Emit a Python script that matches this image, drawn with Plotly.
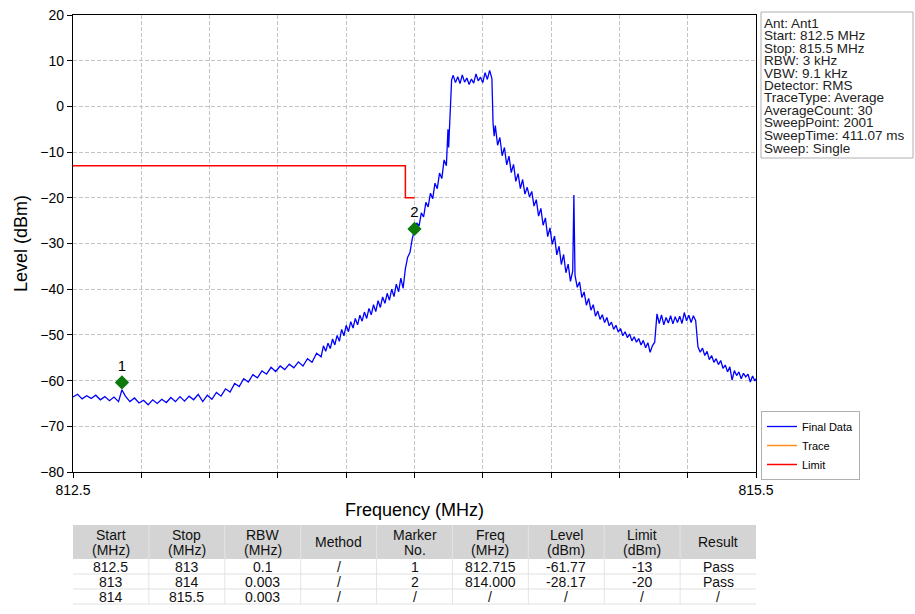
import plotly.graph_objects as go

W, H = 915, 614

# ---------------- data ----------------
freq_mhz = [
    812.50, 812.52, 812.54, 812.56, 812.58, 812.60, 812.62, 812.64, 812.66, 812.68, 812.70, 812.715,
    812.73, 812.75, 812.77, 812.79, 812.81, 812.83, 812.85, 812.87, 812.89, 812.91, 812.93, 812.95,
    812.97, 812.99, 813.01, 813.03, 813.05,
    813.07, 813.09, 813.11, 813.13, 813.15, 813.17, 813.19, 813.21, 813.23, 813.25, 813.27, 813.29,
    813.31, 813.33, 813.35, 813.37, 813.39, 813.41, 813.43, 813.45, 813.47, 813.49, 813.51, 813.53,
    813.55, 813.57, 813.59,
    813.60, 813.61, 813.62, 813.63, 813.64, 813.65, 813.66, 813.67, 813.68, 813.69, 813.70, 813.71,
    813.72, 813.73, 813.74, 813.75, 813.76, 813.77, 813.78, 813.79, 813.80, 813.81, 813.82, 813.83,
    813.84, 813.85, 813.86, 813.87, 813.88, 813.89, 813.90, 813.91, 813.92, 813.93, 813.94, 813.95,
    813.96, 813.97, 813.98, 813.99, 814.00, 814.01, 814.02, 814.03, 814.04, 814.05, 814.06, 814.07,
    814.08, 814.09, 814.10, 814.11, 814.12, 814.13, 814.14, 814.147, 814.150, 814.157, 814.163,
    814.17, 814.18, 814.19, 814.20, 814.21, 814.22, 814.23, 814.24, 814.25, 814.26, 814.27, 814.28,
    814.29, 814.30, 814.31, 814.32, 814.33, 814.34,
    814.345, 814.35, 814.355, 814.365, 814.375, 814.385, 814.395, 814.405, 814.415, 814.425, 814.435,
    814.445, 814.455, 814.465, 814.475, 814.485, 814.495,
    814.505, 814.515, 814.525, 814.535, 814.545, 814.555, 814.565, 814.575, 814.585, 814.595, 814.605,
    814.615, 814.625, 814.635, 814.645, 814.655, 814.665, 814.675, 814.685, 814.695, 814.700,
    814.705, 814.715, 814.725, 814.735, 814.745, 814.755, 814.765, 814.775, 814.785, 814.795, 814.805,
    814.815, 814.825, 814.835, 814.845, 814.855, 814.865, 814.875, 814.885, 814.895, 814.905, 814.915,
    814.925, 814.935, 814.945, 814.955, 814.965, 814.975, 814.985, 814.995, 815.005, 815.015, 815.025,
    815.035, 815.045, 815.055, 815.065, 815.075, 815.085, 815.095, 815.105, 815.115, 815.125, 815.135,
    815.145, 815.155, 815.165, 815.175, 815.185, 815.195, 815.205, 815.215, 815.225, 815.235, 815.245,
    815.255, 815.265, 815.275, 815.285, 815.295, 815.305, 815.315, 815.325, 815.335, 815.345, 815.355,
    815.365, 815.375, 815.385, 815.395, 815.405, 815.415, 815.425, 815.435, 815.445, 815.455, 815.465,
    815.475, 815.485, 815.495, 815.50,
]
level_dbm = [
    -63.6, -63.0, -64.0, -63.3, -63.9, -63.2, -64.2, -63.5, -64.4, -63.6, -64.6, -62.0,
    -63.4, -64.6, -63.8, -64.9, -64.3, -65.3, -64.2, -65.0, -64.1, -64.8, -63.7, -64.6,
    -63.5, -64.5, -63.4, -64.2, -63.0,
    -64.6, -63.2, -64.1, -62.6, -63.4, -61.8, -62.5, -60.6, -61.3, -59.6, -60.3, -58.7,
    -59.4, -57.9, -58.6, -57.1, -58.0, -56.8, -57.6, -56.4, -57.2, -55.9, -56.8, -55.2,
    -56.0, -54.0, -54.8,
    -52.4, -53.6, -51.8, -53.0, -50.9, -52.2, -50.1, -51.4, -48.8, -50.2, -47.9, -49.3,
    -47.1, -48.5, -46.4, -47.8, -45.7, -47.0, -45.0, -46.4, -44.2, -45.6, -43.4, -44.9,
    -42.5, -44.0, -41.7, -43.1, -40.9, -42.4, -40.0, -41.6, -38.9, -40.6, -37.6, -39.8,
    -35.5, -33.0, -32.0, -29.0, -27.0, -25.5, -26.2, -23.3, -24.2, -21.0, -22.0, -19.0,
    -20.2, -16.8, -18.0, -14.6, -15.8, -11.7, -13.0, -5.0, -9.0, -2.0, 5.8,
    6.8, 5.2, 6.5, 5.0, 6.9, 5.3, 6.2, 4.8, 6.0, 5.1, 7.1, 5.6,
    6.4, 5.2, 7.4, 5.9, 7.9, 6.1,
    -3.6, -6.5, -4.2, -8.5, -6.8, -10.8, -9.0, -12.8, -10.9, -14.5, -12.7,
    -16.4, -14.7, -18.0, -16.0, -19.2, -17.7,
    -19.8, -18.6, -21.8, -20.4, -24.0, -22.3, -26.0, -24.4, -28.5, -26.6, -30.2,
    -28.4, -32.5, -30.6, -34.6, -32.4, -36.4, -34.5, -38.3, -36.0, -19.4,
    -37.0, -39.6, -38.4, -41.8, -40.6, -43.5, -42.0, -44.6, -43.4, -45.9, -44.8,
    -46.6, -45.6, -47.3, -46.2, -48.0, -47.2, -48.8, -47.9, -49.4, -48.6, -50.2,
    -49.3, -50.6, -49.8, -51.3, -50.4, -51.6, -50.8, -52.2, -51.2, -52.8, -51.7,
    -53.8, -52.4, -51.6, -45.4, -47.5, -45.6, -47.8, -46.2, -47.4, -45.8, -47.6,
    -46.0, -47.3, -45.9, -47.5, -45.1, -46.9, -45.7, -47.3, -45.8, -46.9, -52.6,
    -53.8, -52.9, -54.5, -53.6, -55.4, -54.5, -56.0, -55.2, -56.5, -55.6, -57.3,
    -56.6, -58.1, -57.0, -59.9, -57.8, -58.9, -58.1, -59.6, -58.4, -59.2, -58.6,
    -60.3, -59.0, -60.1, -59.6,
]

limit_freq = [812.5, 813.96, 813.96, 814.0]
limit_level = [-13, -13, -20, -20]

marker_freq = [812.715, 814.0]
marker_level = [-60.4, -26.8]
marker_names = ["1", "2"]

x_tickvals = [812.5, 812.8, 813.1, 813.4, 813.7, 814.0, 814.3, 814.6, 814.9, 815.2, 815.5]
x_ticktext = ["812.5", "", "", "", "", "", "", "", "", "", "815.5"]

info_lines = [
    "Ant: Ant1", "Start: 812.5 MHz", "Stop: 815.5 MHz", "RBW: 3 kHz", "VBW: 9.1 kHz",
    "Detector: RMS", "TraceType: Average", "AverageCount: 30", "SweepPoint: 2001",
    "SweepTime: 411.07 ms", "Sweep: Single",
]

tbl_header = ["Start<br>(MHz)", "Stop<br>(MHz)", "RBW<br>(MHz)", "Method", "Marker<br>No.",
              "Freq<br>(MHz)", "Level<br>(dBm)", "Limit<br>(dBm)", "Result"]
tbl_start = ["812.5", "813", "814"]
tbl_stop = ["813", "814", "815.5"]
tbl_rbw = ["0.1", "0.003", "0.003"]
tbl_method = ["/", "/", "/"]
tbl_marker = ["1", "2", "/"]
tbl_freq = ["812.715", "814.000", "/"]
tbl_level = ["-61.77", "-28.17", "/"]
tbl_limit = ["-13", "-20", "/"]
tbl_result = ["Pass", "Pass", "/"]

# ---------------- layout helpers ----------------
FONT = "Arial, Liberation Sans, sans-serif"
def px_x(p):
    return p / W
def px_y(p):
    return 1 - p / H

PL, PR, PT, PB = 73, 756, 15, 472

fig = go.Figure()
fig.add_trace(go.Scatter(x=freq_mhz, y=level_dbm, mode="lines", name="Final Data",
                         line=dict(color="#0000ff", width=1.3)))
fig.add_trace(go.Scatter(x=[None], y=[None], mode="lines", name="Trace",
                         line=dict(color="#ff8c1a", width=1.5)))
fig.add_trace(go.Scatter(x=limit_freq, y=limit_level, mode="lines", name="Limit",
                         line=dict(color="#ff0000", width=1.5)))
fig.add_trace(go.Scatter(x=marker_freq, y=marker_level, mode="markers+text", showlegend=False,
                         marker=dict(symbol="diamond", size=11, color="#0a7a0a"),
                         text=marker_names, textposition="top center",
                         textfont=dict(family=FONT, size=15, color="black")))

shapes = []
annotations = []

# info box
shapes.append(dict(type="rect", xref="paper", yref="paper", x0=px_x(761), x1=px_x(913),
                   y0=px_y(158), y1=px_y(12), line=dict(color="#b0b0b0", width=1)))
for i, line in enumerate(info_lines):
    annotations.append(dict(xref="paper", yref="paper", x=px_x(762), y=px_y(23 + i * 12.5),
                            xanchor="left", yanchor="middle", showarrow=False, text=line,
                            font=dict(family=FONT, size=13.5, color="#222222")))

# results table (drawn with shapes + text)
T_TOP, T_HEAD_BOT, ROW_H = 525, 559, 15
ncol = len(tbl_header)
colw = (PR - PL) / ncol
columns = [tbl_start, tbl_stop, tbl_rbw, tbl_method, tbl_marker, tbl_freq, tbl_level,
           tbl_limit, tbl_result]
nrows = len(tbl_start)
T_BOT = T_HEAD_BOT + nrows * ROW_H
shapes.append(dict(type="rect", xref="paper", yref="paper", x0=px_x(PL), x1=px_x(PR),
                   y0=px_y(T_HEAD_BOT), y1=px_y(T_TOP), fillcolor="#d4d4d4",
                   line=dict(width=0), layer="below"))
for c in range(1, ncol):
    xc = PL + c * colw
    shapes.append(dict(type="line", xref="paper", yref="paper", x0=px_x(xc), x1=px_x(xc),
                       y0=px_y(T_TOP), y1=px_y(T_BOT), line=dict(color="#e4e4e4", width=1)))
for r in range(nrows):
    yl = T_HEAD_BOT + (r + 1) * ROW_H
    shapes.append(dict(type="line", xref="paper", yref="paper", x0=px_x(PL), x1=px_x(PR),
                       y0=px_y(yl), y1=px_y(yl), line=dict(color="#e0e0e0", width=1)))
for c, head in enumerate(tbl_header):
    xc = PL + (c + 0.5) * colw
    parts = head.split("<br>")
    if len(parts) == 1:
        ys = [(T_TOP + T_HEAD_BOT) / 2]
    else:
        ys = [534.5, 550]
    for part, yy in zip(parts, ys):
        annotations.append(dict(xref="paper", yref="paper", x=px_x(xc), y=px_y(yy),
                                xanchor="center", yanchor="middle", showarrow=False, text=part,
                                font=dict(family=FONT, size=14, color="#111111")))
    for r in range(nrows):
        yy = T_HEAD_BOT + (r + 0.5) * ROW_H
        annotations.append(dict(xref="paper", yref="paper", x=px_x(xc), y=px_y(yy),
                                xanchor="center", yanchor="middle", showarrow=False,
                                text=columns[c][r],
                                font=dict(family=FONT, size=14, color="#111111")))

fig.update_layout(
    width=W, height=H,
    margin=dict(l=0, r=0, t=0, b=0, autoexpand=False),
    paper_bgcolor="white", plot_bgcolor="white",
    font=dict(family=FONT, size=14, color="black"),
    xaxis=dict(domain=[px_x(PL), px_x(PR)], range=[812.5, 815.5], tickvals=x_tickvals,
               ticktext=x_ticktext, showline=True, linecolor="black", linewidth=1.2, mirror=True,
               ticks="outside", ticklen=5, tickcolor="black", showgrid=True, gridcolor="#c4c4c4",
               griddash="4px,2px", gridwidth=1, zeroline=False, automargin=False,
               title=dict(text="Frequency (MHz)", font=dict(size=18), standoff=6),
               tickfont=dict(size=14)),
    yaxis=dict(domain=[px_y(PB), px_y(PT)], range=[-80, 20], dtick=10, showline=True,
               linecolor="black", linewidth=1.2, mirror=True, ticks="outside", ticklen=5,
               tickcolor="black", showgrid=True, gridcolor="#c4c4c4", griddash="4px,2px",
               gridwidth=1, zeroline=False, automargin=False,
               title=dict(text="Level (dBm)", font=dict(size=18), standoff=8),
               tickfont=dict(size=14)),
    legend=dict(x=px_x(761), y=px_y(411), xanchor="left", yanchor="top",
                bordercolor="#b0b0b0", borderwidth=1, bgcolor="white",
                font=dict(family=FONT, size=11), itemwidth=30, tracegroupgap=0),
    shapes=shapes,
    annotations=annotations,
)

fig.write_html("out.html", config={"displayModeBar": False},
               post_script="document.body.style.margin='0px';")
